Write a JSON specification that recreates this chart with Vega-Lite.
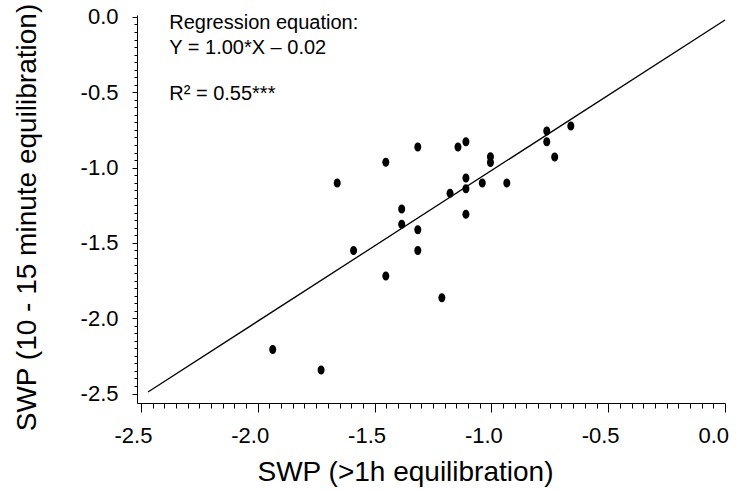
{
  "$schema": "https://vega.github.io/schema/vega-lite/v6.json",
  "width": 588,
  "height": 388,
  "autosize": {"type": "none"},
  "padding": {"left": 137, "top": 15, "right": 11, "bottom": 88},
  "background": "white",
  "config": {
    "view": {"stroke": null},
    "font": "Liberation Sans",
    "axis": {
      "grid": false,
      "domainColor": "black",
      "domainWidth": 1,
      "tickColor": "black",
      "tickWidth": 1,
      "labelColor": "black",
      "titleColor": "black",
      "labelFont": "Liberation Sans",
      "titleFont": "Liberation Sans",
      "titleFontWeight": "normal",
      "labelOverlap": false,
      "labelBound": false,
      "labelFlush": false
    }
  },
  "resolve": {"axis": {"x": "independent", "y": "independent"}},
  "datasets": {
    "pts": [
      {"x": -1.660, "y": -1.102},
      {"x": -1.452, "y": -0.965},
      {"x": -1.315, "y": -0.863},
      {"x": -1.143, "y": -0.863},
      {"x": -1.109, "y": -0.828},
      {"x": -1.004, "y": -0.928},
      {"x": -1.004, "y": -0.967},
      {"x": -0.763, "y": -0.757},
      {"x": -0.763, "y": -0.828},
      {"x": -0.660, "y": -0.724},
      {"x": -0.729, "y": -0.930},
      {"x": -1.109, "y": -1.069},
      {"x": -1.109, "y": -1.140},
      {"x": -1.039, "y": -1.102},
      {"x": -0.934, "y": -1.102},
      {"x": -1.177, "y": -1.171},
      {"x": -1.384, "y": -1.275},
      {"x": -1.384, "y": -1.377},
      {"x": -1.315, "y": -1.412},
      {"x": -1.109, "y": -1.310},
      {"x": -1.315, "y": -1.550},
      {"x": -1.590, "y": -1.550},
      {"x": -1.452, "y": -1.720},
      {"x": -1.212, "y": -1.864},
      {"x": -1.936, "y": -2.207},
      {"x": -1.729, "y": -2.344}
    ],
    "fit": [
      {"x": -2.47, "y": -2.49},
      {"x": 0.0, "y": -0.02}
    ],
    "notes": [
      {"line": "Regression equation:", "ty": -0.082},
      {"line": "Y = 1.00*X – 0.02", "ty": -0.248},
      {"line": "R² = 0.55***", "ty": -0.551}
    ]
  },
  "layer": [
    {
      "data": {"name": "pts"},
      "mark": {
        "type": "point",
        "filled": true,
        "color": "black",
        "opacity": 1,
        "shape": "M-0.78,0A0.78,1,0,1,1,0.78,0A0.78,1,0,1,1,-0.78,0Z",
        "size": 81
      },
      "encoding": {
        "x": {
          "field": "x",
          "type": "quantitative",
          "scale": {"domain": [-2.517, 0], "nice": false, "zero": false},
          "axis": {
            "orient": "bottom",
            "title": "SWP (>1h equilibration)",
            "titleFontSize": 28,
            "titleX": 268,
            "titleY": 77,
            "titleAlign": "center",
            "titleBaseline": "alphabetic",
            "labelFontSize": 22,
            "labelPadding": 13,
            "labelAlign": "left",
            "labelOffset": -27,
            "tickSize": 9,
            "tickCount": 200,
            "values": [-2.5, -2.0, -1.5, -1.0, -0.5, 0.0],
            "labelExpr": "replace(format(datum.value, '.1f'), '−', '-')"
          }
        },
        "y": {
          "field": "y",
          "type": "quantitative",
          "scale": {"domain": [-2.563, 0.013], "nice": false, "zero": false},
          "axis": {
            "orient": "left",
            "title": "SWP (10 - 15 minute equilibration)",
            "titleFontSize": 28,
            "titleX": -102,
            "titleY": 202,
            "titleAlign": "center",
            "titleBaseline": "alphabetic",
            "titleAngle": 270,
            "labelFontSize": 22,
            "labelPadding": 14,
            "tickSize": 5,
            "tickCount": 200,
            "values": [-2.5, -2.0, -1.5, -1.0, -0.5, 0.0],
            "labelExpr": "replace(format(datum.value, '.1f'), '−', '-')"
          }
        }
      }
    },
    {
      "data": {"name": "fit"},
      "mark": {"type": "line", "color": "black", "strokeWidth": 1.3},
      "encoding": {
        "x": {
          "field": "x",
          "type": "quantitative",
          "axis": {
            "orient": "bottom",
            "title": null,
            "labels": false,
            "domain": false,
            "tickSize": 5,
            "tickCount": 200,
            "values": [-2.45,-2.4,-2.35,-2.3,-2.25,-2.2,-2.15,-2.1,-2.05,-1.95,-1.9,-1.85,-1.8,-1.75,-1.7,-1.65,-1.6,-1.55,-1.45,-1.4,-1.35,-1.3,-1.25,-1.2,-1.15,-1.1,-1.05,-0.95,-0.9,-0.85,-0.8,-0.75,-0.7,-0.65,-0.6,-0.55,-0.45,-0.4,-0.35,-0.3,-0.25,-0.2,-0.15,-0.1,-0.05]
          }
        },
        "y": {
          "field": "y",
          "type": "quantitative",
          "axis": {
            "orient": "left",
            "title": null,
            "labels": false,
            "domain": false,
            "tickSize": 3,
            "tickCount": 200,
            "values": [-2.45,-2.4,-2.35,-2.3,-2.25,-2.2,-2.15,-2.1,-2.05,-1.95,-1.9,-1.85,-1.8,-1.75,-1.7,-1.65,-1.6,-1.55,-1.45,-1.4,-1.35,-1.3,-1.25,-1.2,-1.15,-1.1,-1.05,-0.95,-0.9,-0.85,-0.8,-0.75,-0.7,-0.65,-0.6,-0.55,-0.45,-0.4,-0.35,-0.3,-0.25,-0.2,-0.15,-0.1,-0.05]
          }
        }
      }
    },
    {
      "data": {"name": "notes"},
      "mark": {"type": "text", "align": "left", "baseline": "alphabetic", "fontSize": 20, "color": "black", "font": "Liberation Sans"},
      "encoding": {
        "x": {"datum": -2.379, "type": "quantitative", "axis": null},
        "y": {"field": "ty", "type": "quantitative", "axis": null},
        "text": {"field": "line"}
      }
    }
  ]
}
